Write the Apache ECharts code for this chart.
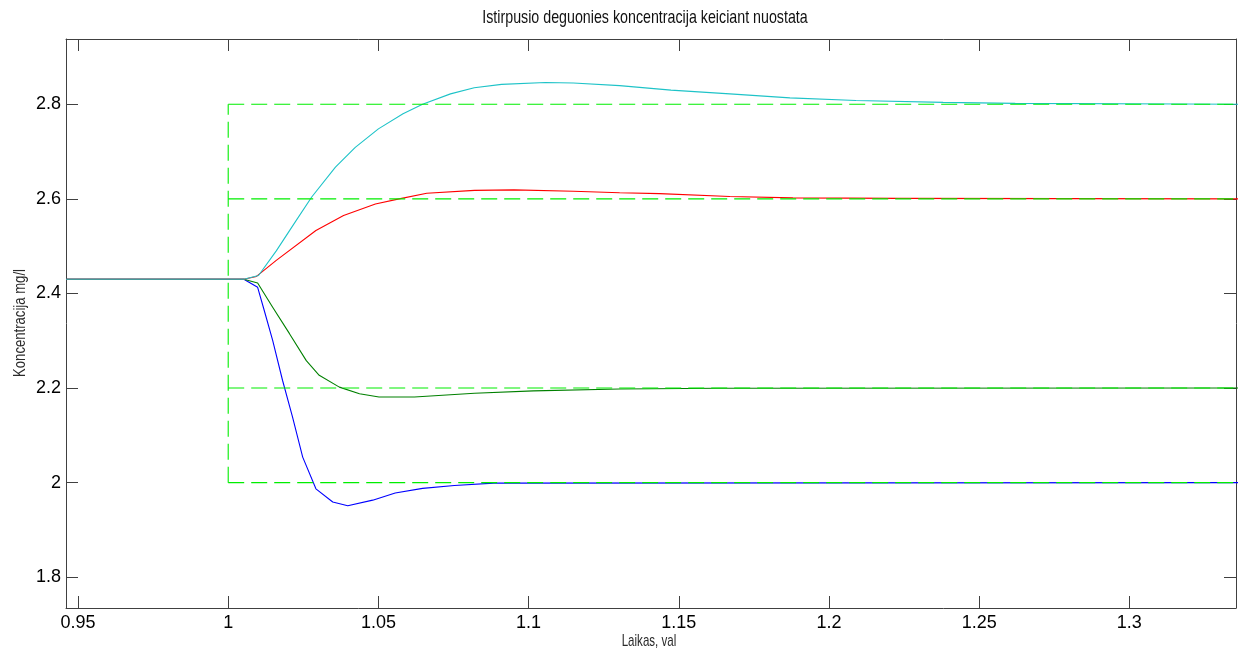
<!DOCTYPE html>
<html>
<head>
<meta charset="utf-8">
<script src="https://cdn.jsdelivr.net/npm/echarts@6/dist/echarts.min.js"></script>
<style>html,body{margin:0;padding:0;background:#fff}#c{width:1238px;height:652px}</style>
</head>
<body>
<div id="c"></div>
<script>
// ---- data ----
const titleText = 'Istirpusio deguonies koncentracija keiciant nuostata';
const xName = 'Laikas, val';
const yName = 'Koncentracija mg/l';
const xTicks = [0.95, 1, 1.05, 1.1, 1.15, 1.2, 1.25, 1.3];
const yTicks = [1.8, 2, 2.2, 2.4, 2.6, 2.8];
const xMin = 0.946, xMax = 1.3355, yMin = 1.735, yMax = 2.938;

const stepTime = 1;
const setpoints = [2.8, 2.6, 2.2, 2.0];

const tCyan = [0.946, 1.0052, 1.0101, 1.016, 1.0226, 1.0278, 1.0357, 1.0423, 1.05, 1.0582, 1.0647, 1.074, 1.0819, 1.091, 1.1056, 1.1149, 1.1303, 1.1474, 1.167, 1.187, 1.209, 1.238, 1.262, 1.3177, 1.34];
const yCyan = [2.43, 2.43, 2.438, 2.49, 2.554, 2.604, 2.667, 2.709, 2.748, 2.780, 2.800, 2.822, 2.835, 2.842, 2.846, 2.845, 2.8395, 2.830, 2.822, 2.8135, 2.808, 2.804, 2.802, 2.8005, 2.800];

const tRed = [0.946, 1.0052, 1.0094, 1.016, 1.0292, 1.0384, 1.049, 1.0569, 1.0661, 1.082, 1.0951, 1.1149, 1.1303, 1.1436, 1.167, 1.188, 1.223, 1.34];
const yRed = [2.43, 2.43, 2.436, 2.470, 2.533, 2.565, 2.589, 2.600, 2.612, 2.618, 2.619, 2.616, 2.613, 2.611, 2.605, 2.602, 2.601, 2.600];

const tGreen = [0.946, 1.0052, 1.0098, 1.0148, 1.0204, 1.026, 1.0303, 1.037, 1.0437, 1.0502, 1.062, 1.082, 1.1016, 1.1303, 1.163, 1.34];
const yGreen = [2.43, 2.43, 2.422, 2.371, 2.315, 2.258, 2.227, 2.202, 2.188, 2.181, 2.181, 2.189, 2.194, 2.198, 2.1995, 2.2];

const tBlue = [0.946, 1.0052, 1.0098, 1.012, 1.0148, 1.0181, 1.0214, 1.0248, 1.0292, 1.0348, 1.0398, 1.0481, 1.0556, 1.0647, 1.0753, 1.0884, 1.34];
const yBlue = [2.43, 2.43, 2.413, 2.364, 2.301, 2.216, 2.139, 2.054, 1.987, 1.959, 1.951, 1.963, 1.978, 1.988, 1.994, 1.999, 2.0];

// ---- chart ----
const zip = (a, b) => a.map((v, i) => [v, b[i]]);
const axisColor = '#404040';
const numFont = 'Liberation Sans, Arial, sans-serif';
const labelFont = 'Liberation Sans, Arial, sans-serif';

function xAx(pos, withLabels) {
  return {
    type: 'value', position: pos, min: xMin, max: xMax,
    axisLine: { show: true, onZero: false, lineStyle: { color: axisColor, width: 1 } },
    axisTick: { show: true, inside: true, length: 12, customValues: xTicks, lineStyle: { color: axisColor } },
    axisLabel: { show: withLabels, customValues: xTicks, color: '#000', fontSize: 18, fontFamily: numFont, margin: 6 },
    splitLine: { show: false }
  };
}
function yAx(pos, withLabels) {
  return {
    type: 'value', position: pos, min: yMin, max: yMax,
    axisLine: { show: true, onZero: false, lineStyle: { color: axisColor, width: 1 } },
    axisTick: { show: true, inside: true, length: 12, customValues: yTicks, lineStyle: { color: axisColor } },
    axisLabel: { show: withLabels, customValues: yTicks, color: '#000', fontSize: 18, fontFamily: numFont, margin: 5 },
    splitLine: { show: false }
  };
}

function resp(data, color) {
  return { type: 'line', data: data, showSymbol: false, symbol: 'none', clip: true,
           lineStyle: { color: color, width: 1.1 }, itemStyle: { color: color }, z: 2 };
}
const dashStyle = { color: '#00ee00', width: 1.1, type: [16, 7] };

const series = [
  resp(zip(tBlue, yBlue), '#0000ff'),
  resp(zip(tGreen, yGreen), '#008000'),
  resp(zip(tRed, yRed), '#ff0000'),
  resp(zip(tCyan, yCyan), '#1ec3c8'),
  { type: 'line', data: [[stepTime, Math.min(...setpoints)], [stepTime, Math.max(...setpoints)]],
    showSymbol: false, symbol: 'none', lineStyle: dashStyle, z: 3 }
];
setpoints.forEach(sp => series.push({
  type: 'line', data: [[stepTime, sp], [xMax, sp]], showSymbol: false, symbol: 'none',
  lineStyle: dashStyle, z: 3
}));

// condensed-looking texts (the original uses a narrow font)
const graphics = [
  { type: 'text', x: 645, y: 18, scaleX: 0.77,
    style: { text: titleText, fontFamily: labelFont, fontSize: 18.5, fill: '#111', align: 'center', verticalAlign: 'middle' } },
  { type: 'text', x: 649, y: 641.5, scaleX: 0.68,
    style: { text: xName, fontFamily: labelFont, fontSize: 17, fill: '#2a2a2a', align: 'center', verticalAlign: 'middle' } },
  { type: 'text', x: 21, y: 323, rotation: Math.PI / 2, scaleX: 0.82,
    style: { text: yName, fontFamily: labelFont, fontSize: 16, fill: '#2a2a2a', align: 'center', verticalAlign: 'middle' } }
];

const chart = echarts.init(document.getElementById('c'), null, { renderer: 'canvas' });
chart.setOption({
  animation: false,
  backgroundColor: '#fff',
  grid: { left: 66, right: 2, top: 39, bottom: 44, containLabel: false },
  xAxis: [xAx('bottom', true), xAx('top', false)],
  yAxis: [yAx('left', true), yAx('right', false)],
  graphic: graphics,
  series: series
});
</script>
</body>
</html>
